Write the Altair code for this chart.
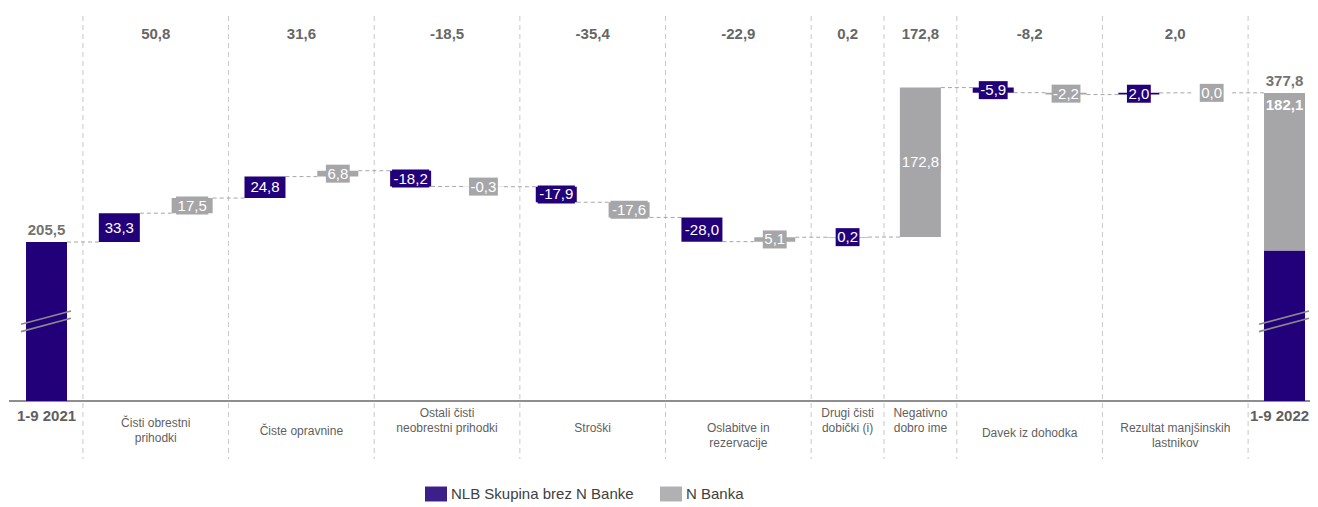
import altair as alt
import pandas as pd

# ---------------- data ----------------
categories = ["Čisti obrestni prihodki", "Čiste opravnine", "Ostali čisti neobrestni prihodki",
              "Stroški", "Oslabitve in rezervacije", "Drugi čisti dobički (i)",
              "Negativno dobro ime", "Davek iz dohodka", "Rezultat manjšinskih lastnikov"]
category_labels = ["Čisti obrestni\nprihodki", "Čiste opravnine", "Ostali čisti\nneobrestni prihodki",
                   "Stroški", "Oslabitve  in\nrezervacije", "Drugi čisti\ndobički (i)",
                   "Negativno\ndobro ime", "Davek  iz dohodka", "Rezultat  manjšinskih\nlastnikov"]
nlb_values = [33.3, 24.8, -18.2, -17.9, -28.0, 0.2, None, -5.9, 2.0]
nbanka_values = [17.5, 6.8, -0.3, -17.6, 5.1, None, 172.8, -2.2, 0.0]
total_values = [50.8, 31.6, -18.5, -35.4, -22.9, 0.2, 172.8, -8.2, 2.0]
series_names = ["NLB Skupina brez N Banke", "N Banka"]
start_label, start_value = "1-9 2021", 205.5
end_label, end_value, end_nbanka_value = "1-9 2022", 377.8, 182.1

# ---------------- style ----------------
FONT = "Liberation Sans"
PURPLE = "#22007a"
GREY = "#a6a6a9"
W, H = 1302, 497
BASE_Y = 393
Y_DOMAIN = [21.7, 476.0]
X_DOMAIN = [-0.5, 17.35]
X_RANGE = [2.1, 1302]
HALF = 0.2815
LABEL_CENTER_Y = [414.7, 422.7, 405.3, 419.7, 420.3, 405.3, 405.3, 425.3, 420.3]
LINE_H = 14.8
CAT_FS = 12

xs = alt.Scale(domain=X_DOMAIN, range=X_RANGE, nice=False, zero=False)
ys = alt.Scale(domain=Y_DOMAIN, range=[BASE_Y, 0], nice=False, zero=False, clamp=True)
cs = alt.Scale(domain=series_names, range=[PURPLE, GREY])


def fmt(v):
    return f"{v:.1f}".replace(".", ",")


def text_w(s):
    return sum(8.34 if c.isdigit() else 4.17 if c == "," else 5.0 for c in s)


# ---------------- build tables ----------------
bars, labels, connectors = [], [], []
slot = 0
bars.append(dict(xa=slot - HALF, xb=slot + HALF, y0=0, y1=start_value, series=series_names[0]))
level = start_value
prev = 0
columns = [[0]]
for i in range(len(categories)):
    cols = []
    for s, vals in enumerate([nlb_values, nbanka_values]):
        v = vals[i]
        if v is None:
            continue
        slot += 1
        connectors.append(dict(xa=prev + HALF, xb=slot - HALF, y=level))
        bars.append(dict(xa=slot - HALF, xb=slot + HALF, y0=level, y1=level + v, series=series_names[s]))
        lab = fmt(v)
        labels.append(dict(slot=slot, mid=level + v / 2, label=lab,
                           boxw=min(41, text_w(lab) + 3), series=series_names[s]))
        level += v
        prev = slot
        cols.append(slot)
    columns.append(cols)
slot += 1
end_slot = slot
connectors.append(dict(xa=prev + HALF, xb=slot - HALF, y=level))
end_nlb = end_value - end_nbanka_value
bars.append(dict(xa=slot - HALF, xb=slot + HALF, y0=0, y1=end_nlb, series=series_names[0]))
bars.append(dict(xa=slot - HALF, xb=slot + HALF, y0=end_nlb, y1=end_value, series=series_names[1]))

bars_df = pd.DataFrame(bars)
labels_df = pd.DataFrame(labels)
conn_df = pd.DataFrame(connectors)
div_df = pd.DataFrame({"x": [c[-1] + 0.5 for c in columns]})
centers = [sum(c) / len(c) for c in columns[1:]]
tot_df = pd.DataFrame({"x": centers, "label": [fmt(v) for v in total_values]})

cat_rows = []
for i, lab in enumerate(category_labels):
    for j, line in enumerate(lab.split("\n")):
        cat_rows.append(dict(x=centers[i], py=LABEL_CENTER_Y[i] + j * LINE_H, label=line))
cat_df = pd.DataFrame(cat_rows)

ends_df = pd.DataFrame({"x": [0, end_slot], "label": [start_label, end_label],
                        "v": [start_value, end_value], "vl": [fmt(start_value), fmt(end_value)]})
start_df = ends_df.iloc[[0]]
end_df = ends_df.iloc[[1]]
endin_df = pd.DataFrame({"x": [end_slot], "v": [end_value], "label": [fmt(end_nbanka_value)]})

BREAK_LOW, BREAK_RISE, BREAK_GAP = 101.9, 15.4, 8.5
brk = []
for sx in [0, end_slot]:
    for k in range(2):
        b = BREAK_LOW + k * BREAK_GAP
        brk.append(dict(xa=sx - 0.35, xb=sx + 0.336, ya=b, yb=b + BREAK_RISE))
brk_df = pd.DataFrame(brk)

# ---------------- layers ----------------
dividers = alt.Chart(div_df).mark_rule(color="#c8c8c8", strokeWidth=1, strokeDash=[5, 4]).encode(
    x=alt.X("x:Q", scale=xs, axis=None), y=alt.value(8), y2=alt.value(451))

baseline = alt.Chart(div_df).mark_rule(color="#8e8e8e", strokeWidth=2).encode(
    x=alt.value(1), x2=alt.value(W), y=alt.value(BASE_Y))

conn = alt.Chart(conn_df).mark_rule(color="#a6a6a6", strokeWidth=1, strokeDash=[4, 3]).encode(
    x=alt.X("xa:Q", scale=xs, axis=None), x2="xb:Q",
    y=alt.Y("y:Q", scale=ys, axis=None))

bar_layer = alt.Chart(bars_df).mark_rect().encode(
    x=alt.X("xa:Q", scale=xs, axis=None), x2="xb:Q",
    y=alt.Y("y0:Q", scale=ys, axis=None), y2="y1:Q",
    color=alt.Color("series:N", scale=cs, legend=alt.Legend(
        title=None, orient="none", legendX=417, legendY=475, direction="horizontal",
        symbolType="M-1,-0.68H1V0.68H-1Z", symbolSize=484, symbolStrokeWidth=0,
        symbolOpacity=0.88, labelFont=FONT, labelFontSize=15, labelColor="#404040",
        labelLimit=0, columnPadding=26, labelOffset=4)))

boxes = alt.Chart(labels_df).mark_tick(orient="horizontal", thickness=18, opacity=1).encode(
    x=alt.X("slot:Q", scale=xs, axis=None), y=alt.Y("mid:Q", scale=ys, axis=None),
    size=alt.Size("boxw:Q", scale=None),
    color=alt.Color("series:N", scale=cs, legend=None))

bar_text = alt.Chart(labels_df).mark_text(color="white", font=FONT, fontSize=15, baseline="middle").encode(
    x=alt.X("slot:Q", scale=xs, axis=None), y=alt.Y("mid:Q", scale=ys, axis=None), text="label:N")

breaks = alt.Chart(brk_df).mark_rule(color="#8a8a8a", strokeWidth=1.6).encode(
    x=alt.X("xa:Q", scale=xs, axis=None), x2="xb:Q",
    y=alt.Y("ya:Q", scale=ys, axis=None), y2="yb:Q")

totals = alt.Chart(tot_df).mark_text(color="#666666", font=FONT, fontSize=15, fontWeight="bold",
                                      baseline="middle").encode(
    x=alt.X("x:Q", scale=xs, axis=None), y=alt.value(26), text="label:N")

end_vals = alt.Chart(ends_df).mark_text(color="#737373", font=FONT, fontSize=15, fontWeight="bold",
                                         baseline="middle", dy=-12).encode(
    x=alt.X("x:Q", scale=xs, axis=None), y=alt.Y("v:Q", scale=ys, axis=None), text="vl:N")

end_in = alt.Chart(endin_df).mark_text(color="white", font=FONT, fontSize=15, fontWeight="bold",
                                        baseline="middle", dy=12).encode(
    x=alt.X("x:Q", scale=xs, axis=None), y=alt.Y("v:Q", scale=ys, axis=None), text="label:N")

start_name = alt.Chart(start_df).mark_text(color="#5f5f5f", font=FONT, fontSize=15, fontWeight="bold",
                                            baseline="middle").encode(
    x=alt.X("x:Q", scale=xs, axis=None), y=alt.value(407.7), text="label:N")

end_name = alt.Chart(end_df).mark_text(color="#5f5f5f", font=FONT, fontSize=15, fontWeight="bold",
                                        baseline="middle", dx=-5).encode(
    x=alt.X("x:Q", scale=xs, axis=None), y=alt.value(407.7), text="label:N")

cat_text = alt.Chart(cat_df).mark_text(color="#5f5f5f", font=FONT, fontSize=CAT_FS, baseline="middle").encode(
    x=alt.X("x:Q", scale=xs, axis=None), y=alt.Y("py:Q", scale=None), text="label:N")

chart = alt.layer(dividers, baseline, conn, bar_layer, boxes, bar_text, breaks, totals,
                  end_vals, end_in, start_name, end_name, cat_text).properties(
    width=W, height=H, autosize=alt.AutoSizeParams(type="none"), padding=0
).configure_view(stroke=None)

chart.save("out.html", embed_options={"renderer": "svg", "actions": False})
